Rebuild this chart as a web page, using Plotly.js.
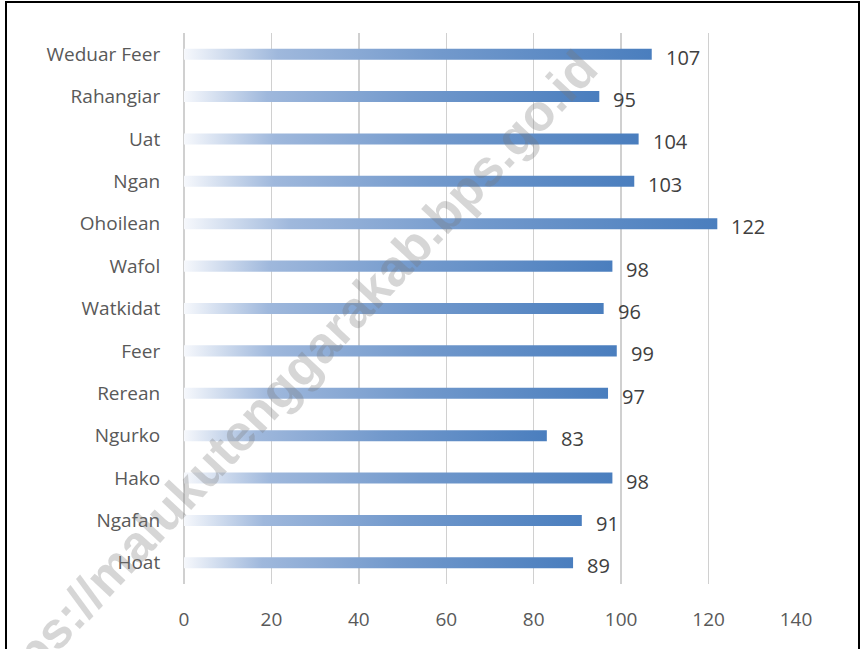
<!DOCTYPE html>
<html>
<head>
<meta charset="utf-8">
<script src="https://cdn.plot.ly/plotly-3.0.1.min.js"></script>
<style>
  html, body { margin: 0; padding: 0; background: #fff; }
  #wrap { position: relative; width: 860px; height: 649px; overflow: hidden; }
  #chart { width: 860px; height: 649px; }
  #frame { position: absolute; left: 5px; top: 1px; width: 851px; height: 660px;
           border: 2px solid #000; pointer-events: none; }
</style>
</head>
<body>
<div id="wrap">
  <div id="chart"></div>
  <div id="frame"></div>
</div>
<script>
// Data (top to bottom as displayed)
const categories = ["Weduar Feer", "Rahangiar", "Uat", "Ngan", "Ohoilean", "Wafol",
                    "Watkidat", "Feer", "Rerean", "Ngurko", "Hako", "Ngafan", "Hoat"];
const values = [107, 95, 104, 103, 122, 98, 96, 99, 97, 83, 98, 91, 89];
const xTicks = [0, 20, 40, 60, 80, 100, 120, 140];
const watermark = "https://malukutenggarakab.bps.go.id";

const FONT = "'Open Sans', Lato, 'Liberation Sans', sans-serif";

const cats = categories.slice().reverse();
const vals = values.slice().reverse();

const trace = {
  type: 'bar',
  orientation: 'h',
  y: cats,
  x: vals,
  width: 0.26,
  marker: { color: '#4a7ebe', line: { width: 0 } },
  hoverinfo: 'none'
};

const annotations = cats.map((c, i) => ({
  x: vals[i], y: c, xref: 'x', yref: 'y',
  text: String(vals[i]), showarrow: false,
  xanchor: 'left', yanchor: 'middle', xshift: 12, yshift: -3,
  font: { family: FONT, size: 20, color: '#404040' }
}));

annotations.push({
  xref: 'paper', yref: 'paper', x: 0.162, y: 0.36,
  text: '<b>' + watermark + '</b>', showarrow: false,
  textangle: -47, xanchor: 'center', yanchor: 'middle',
  font: { family: "'Liberation Sans', Arial, sans-serif", size: 51, color: 'rgba(120,120,120,0.3)' }
});

const layout = {
  width: 860, height: 649,
  margin: { l: 184, r: 64, t: 33, b: 65 },
  paper_bgcolor: '#ffffff', plot_bgcolor: '#ffffff',
  showlegend: false,
  xaxis: {
    range: [0, 140], tickvals: xTicks, ticktext: xTicks.map(String),
    showgrid: true, gridcolor: '#d0d0d0', gridwidth: 1.5,
    zeroline: true, zerolinecolor: '#d0d0d0', zerolinewidth: 2,
    showline: false, ticks: 'outside', ticklen: 18, tickcolor: 'rgba(0,0,0,0)',
    tickfont: { family: FONT, size: 19, color: '#595959' }, fixedrange: true
  },
  yaxis: {
    type: 'category', categoryorder: 'array', categoryarray: cats,
    showgrid: false, zeroline: false, showline: false,
    ticks: 'outside', ticklen: 19, tickcolor: 'rgba(0,0,0,0)',
    tickfont: { family: FONT, size: 19, color: '#595959' }, fixedrange: true
  },
  annotations: annotations
};

Plotly.newPlot('chart', [trace], layout, { displayModeBar: false, staticPlot: true }).then(gd => {
  const svg = gd.querySelector('svg.main-svg');
  const ns = 'http://www.w3.org/2000/svg';
  let defs = svg.querySelector('defs');
  if (!defs) { defs = document.createElementNS(ns, 'defs'); svg.insertBefore(defs, svg.firstChild); }
  const lg = document.createElementNS(ns, 'linearGradient');
  lg.setAttribute('id', 'barGrad');
  lg.setAttribute('x1', '0'); lg.setAttribute('y1', '0');
  lg.setAttribute('x2', '1'); lg.setAttribute('y2', '0');
  [[0, '#f6f8fc'], [0.2, '#9fb8dc'], [0.55, '#7299cc'], [1, '#4a7ebe']].forEach(([o, c]) => {
    const s = document.createElementNS(ns, 'stop');
    s.setAttribute('offset', o); s.setAttribute('stop-color', c);
    lg.appendChild(s);
  });
  defs.appendChild(lg);
  gd.querySelectorAll('.bars .point path').forEach(p => {
    p.style.fill = 'url(#barGrad)';
  });
});
</script>
</body>
</html>
